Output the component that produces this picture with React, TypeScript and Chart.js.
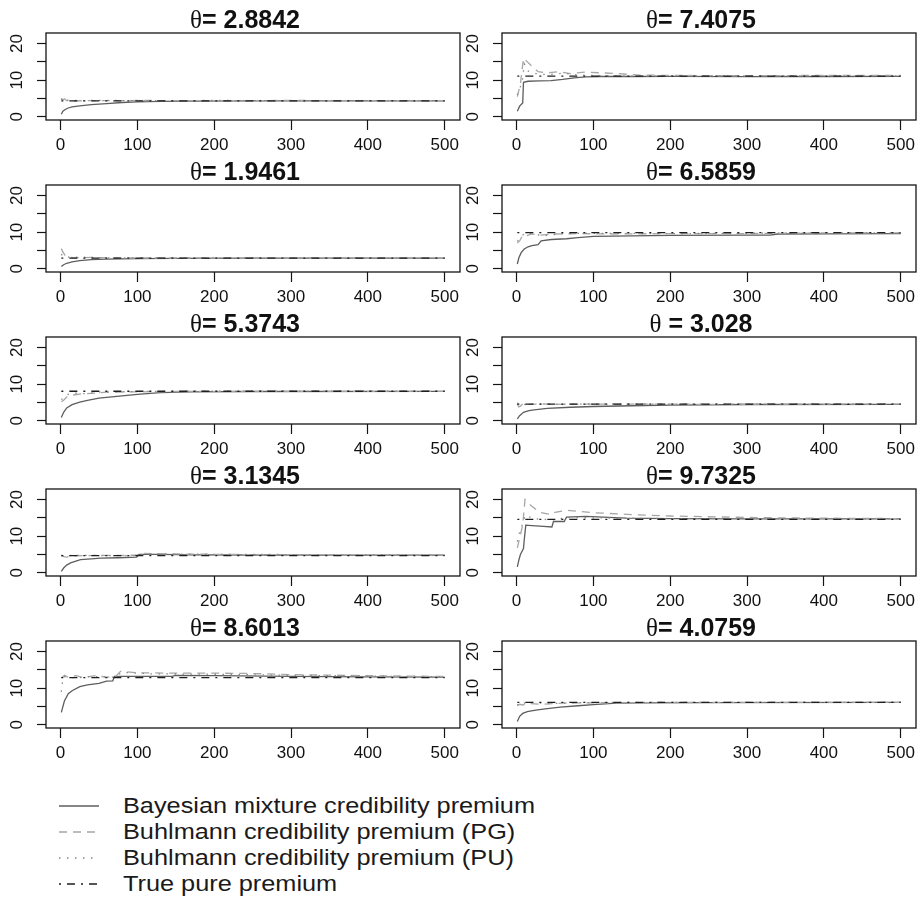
import React, { useEffect, useRef } from "react";
import { Chart, registerables } from "chart.js";

Chart.register(...registerables);

const FONT = '"Liberation Sans", Arial, Helvetica, sans-serif';
const SERIF = '"Liberation Serif", "DejaVu Serif", serif';

// Panel titles (row-major: left, right)
const titles = [
  "θ= 2.8842", "θ= 7.4075",
  "θ= 1.9461", "θ= 6.5859",
  "θ= 5.3743", "θ = 3.028",
  "θ= 3.1345", "θ= 9.7325",
  "θ= 8.6013", "θ= 4.0759",
];

// True pure premium level per panel
const truePremium = [4.33, 11.11, 2.92, 9.88, 8.06, 4.54, 4.7, 14.6, 12.9, 6.11];

// x ticks / y ticks
const xTicks = [0, 100, 200, 300, 400, 500];
const yTickMarks = [0, 5, 10, 15, 20];
const yTicks = [0, 10, 20];
const nRange = [1, 500];
const yRange = [0, 22];

// Bayesian mixture credibility premium: [n, premium]
const bayes1 = [[1,0.7],[3,1.5],[6,2.0],[10,2.4],[15,2.7],[25,3.0],[40,3.3],[60,3.6],[80,3.9],[100,4.05],[130,4.2],[170,4.3],[250,4.35],[350,4.35],[500,4.35]];
const bayes2 = [[1,1.5],[4,2.9],[8,3.8],[9,9.4],[15,9.7],[30,9.8],[45,9.9],[60,10.2],[75,10.6],[90,10.9],[110,11.0],[150,11.0],[200,11.05],[300,10.95],[400,11.0],[500,11.05]];
const bayes3 = [[1,0.6],[4,1.1],[8,1.5],[15,1.9],[25,2.2],[40,2.5],[60,2.65],[100,2.8],[150,2.85],[250,2.9],[500,2.9]];
const bayes4 = [[1,1.3],[3,3.0],[6,4.4],[10,5.4],[15,6.0],[20,6.3],[28,6.6],[32,7.6],[45,8.0],[65,8.2],[80,8.5],[100,8.85],[150,9.0],[200,9.1],[300,9.2],[330,9.2],[340,9.5],[400,9.55],[500,9.6]];
const bayes5 = [[1,0.9],[4,2.3],[8,3.5],[15,4.4],[25,5.1],[35,5.6],[50,6.2],[70,6.6],[100,7.2],[130,7.7],[170,7.9],[250,8.0],[500,8.05]];
const bayes6 = [[1,0.5],[4,1.4],[9,2.3],[15,2.7],[20,2.9],[40,3.4],[70,3.7],[100,3.9],[150,4.1],[200,4.3],[300,4.45],[500,4.5]];
const bayes7 = [[1,0.4],[4,1.3],[8,2.1],[13,2.7],[20,3.2],[26,3.6],[40,3.8],[52,4.0],[75,4.1],[99,4.3],[102,5.0],[130,5.0],[170,4.9],[250,4.85],[350,4.8],[500,4.8]];
const bayes8 = [[1,1.6],[3,3.5],[5,5.0],[9,6.6],[10,9.0],[12,13.0],[20,12.9],[35,12.7],[46,12.5],[48,14.0],[62,14.0],[65,15.2],[90,15.4],[143,14.9],[200,14.8],[300,14.7],[500,14.7]];
const bayes9 = [[1,3.4],[5,6.5],[10,8.5],[15,9.3],[25,10.4],[35,10.9],[50,11.3],[60,11.9],[68,12.0],[70,13.2],[100,13.2],[145,13.2],[150,13.5],[200,13.4],[300,13.2],[400,13.1],[500,13.0]];
const bayes10 = [[1,0.9],[4,2.3],[8,3.1],[14,3.6],[25,4.0],[40,4.4],[57,4.8],[80,5.2],[100,5.5],[130,5.9],[170,6.0],[250,6.05],[500,6.1]];

// Buhlmann credibility premium (PG)
const pg1 = [[1,5.0],[3,4.6],[5,4.9],[8,4.4],[15,4.3],[30,4.4],[60,4.4],[100,4.45],[200,4.4],[300,4.45],[400,4.4],[500,4.4]];
const pg2 = [[1,5.5],[5,9.0],[9,16.0],[14,15.0],[20,13.8],[28,12.3],[40,12.0],[55,12.3],[70,11.8],[90,12.2],[110,12.0],[130,11.8],[160,11.4],[200,11.3],[300,11.2],[400,11.3],[500,11.3]];
const pg3 = [[1,5.5],[3,4.6],[6,3.6],[10,3.2],[20,3.0],[40,3.1],[80,2.95],[150,2.95],[300,2.9],[500,2.9]];
const pg4 = [[1,7.0],[4,7.6],[8,9.2],[12,9.0],[20,9.5],[30,9.2],[50,9.5],[80,9.6],[120,9.5],[200,9.6],[300,9.6],[400,9.8],[500,9.8]];
const pg5 = [[1,5.2],[4,5.6],[8,6.5],[15,7.0],[25,7.3],[40,7.5],[60,7.8],[100,7.9],[150,8.0],[300,8.05],[500,8.05]];
const pg6 = [[1,4.6],[3,3.8],[5,4.0],[8,4.6],[15,4.5],[30,4.6],[60,4.5],[120,4.55],[250,4.5],[500,4.55]];
const pg7 = [[1,4.9],[4,4.4],[8,4.3],[15,4.6],[30,4.7],[60,4.75],[99,4.8],[105,5.3],[130,5.2],[170,5.1],[250,4.95],[350,4.9],[500,4.85]];
const pg8 = [[1,6.8],[4,9.5],[8,13.0],[11,20.0],[15,19.0],[20,18.2],[30,16.5],[46,15.9],[50,16.5],[65,17.1],[80,16.8],[100,16.4],[150,15.9],[200,15.5],[300,15.1],[400,14.9],[500,14.8]];
const pg9 = [[1,12.8],[5,13.5],[10,13.0],[20,13.4],[30,12.9],[45,13.4],[60,13.0],[72,13.3],[78,14.6],[100,14.2],[150,14.1],[200,14.1],[250,14.0],[300,13.7],[400,13.4],[500,13.2]];
const pg10 = [[1,5.2],[4,5.6],[8,5.4],[15,5.8],[30,5.6],[60,5.9],[100,6.0],[200,6.1],[500,6.1]];

// Buhlmann credibility premium (PU)
const pu1 = [[1,4.6],[3,5.2],[6,4.5],[12,4.6],[25,4.4],[50,4.5],[100,4.4],[200,4.45],[300,4.4],[500,4.4]];
const pu2 = [[1,6.0],[4,7.5],[8,10.5],[10,14.5],[15,12.5],[25,11.8],[40,11.5],[60,11.9],[80,11.4],[100,11.3],[150,11.1],[250,11.2],[400,11.15],[500,11.2]];
const pu3 = [[1,4.0],[3,3.4],[6,3.5],[12,3.1],[25,3.2],[50,3.0],[100,3.0],[200,2.9],[500,2.9]];
const pu4 = [[1,7.5],[5,8.5],[10,9.6],[20,9.6],[35,9.0],[60,9.6],[100,9.7],[200,9.6],[300,9.7],[500,9.8]];
const pu5 = [[1,5.8],[3,6.1],[8,7.1],[15,7.6],[30,7.4],[50,7.8],[100,8.0],[200,8.1],[500,8.05]];
const pu6 = [[1,4.9],[3,4.4],[6,4.7],[12,4.4],[25,4.6],[50,4.5],[100,4.6],[250,4.55],[500,4.55]];
const pu7 = [[1,4.6],[5,4.5],[10,4.7],[25,4.8],[60,4.7],[99,4.7],[110,5.2],[150,5.1],[250,5.0],[500,4.9]];
const pu8 = [[1,8.5],[3,10.5],[6,12.0],[9,14.5],[12,15.8],[20,14.9],[30,14.6],[50,14.5],[65,15.1],[100,15.0],[200,14.8],[300,14.8],[500,14.7]];
const pu9 = [[1,9.0],[2,11.0],[4,13.2],[10,13.0],[20,12.8],[40,13.2],[70,13.0],[80,14.3],[120,13.9],[200,13.8],[300,13.5],[400,13.3],[500,13.1]];
const pu10 = [[1,5.6],[4,5.1],[10,5.9],[20,6.1],[40,5.8],[80,6.05],[150,6.1],[500,6.15]];

const bayesSeries = [bayes1, bayes2, bayes3, bayes4, bayes5, bayes6, bayes7, bayes8, bayes9, bayes10];
const pgSeries = [pg1, pg2, pg3, pg4, pg5, pg6, pg7, pg8, pg9, pg10];
const puSeries = [pu1, pu2, pu3, pu4, pu5, pu6, pu7, pu8, pu9, pu10];

const legendLabels = [
  "Bayesian mixture credibility premium",
  "Buhlmann credibility premium (PG)",
  "Buhlmann credibility premium (PU)",
  "True pure premium",
];

// styles
const STYLES = [
  { color: "#5e5e5e", dash: [] as number[] },
  { color: "#a6a6a6", dash: [8, 6] },
  { color: "#8a8a8a", dash: [1.5, 6.5] },
  { color: "#1e1e1e", dash: [2, 6, 8, 6] },
];

const toXY = (arr: number[][]) => arr.map((p) => ({ x: p[0], y: p[1] }));

const boxPlugin = {
  id: "rbox",
  afterDraw(chart: any) {
    const { ctx, chartArea } = chart;
    ctx.save();
    ctx.strokeStyle = "#151515";
    ctx.lineWidth = 1.3;
    ctx.strokeRect(chartArea.left, chartArea.top, chartArea.right - chartArea.left, chartArea.bottom - chartArea.top);
    ctx.restore();
  },
};

// R-style y labels, parallel to the axis, placed through the y scale
const yLabelPlugin = {
  id: "rylabels",
  afterDraw(chart: any) {
    const { ctx } = chart;
    const ys = chart.scales.y;
    ctx.save();
    ctx.fillStyle = "#111";
    ctx.font = `17px ${FONT}`;
    ctx.textAlign = "center";
    ctx.textBaseline = "middle";
    for (const v of yTicks) {
      const py = ys.getPixelForValue(v);
      ctx.save();
      ctx.translate(ys.left + 17, py);
      ctx.rotate(-Math.PI / 2);
      ctx.fillText(String(v), 0, 0);
      ctx.restore();
    }
    ctx.restore();
  },
};

// R plotmath-like title: serif theta, bold sans remainder
const titlePlugin = {
  id: "rtitle",
  afterDraw(chart: any, _args: any, opts: any) {
    const { ctx, chartArea } = chart;
    const text: string = opts.text || "";
    const sym = text.slice(0, 1);
    const rest = text.slice(1);
    ctx.save();
    ctx.fillStyle = "#111";
    ctx.textBaseline = "alphabetic";
    ctx.textAlign = "left";
    const symFont = `25px ${SERIF}`;
    const restFont = `bold 25px ${FONT}`;
    ctx.font = symFont;
    const w1 = ctx.measureText(sym).width;
    ctx.font = restFont;
    const w2 = ctx.measureText(rest).width;
    const cx = (chartArea.left + chartArea.right) / 2 - 8;
    const x0 = cx - (w1 + w2) / 2;
    const base = chartArea.top - 5;
    ctx.font = symFont;
    ctx.fillText(sym, x0, base);
    ctx.font = restFont;
    ctx.fillText(rest, x0 + w1, base);
    ctx.restore();
  },
};

const CANVAS_W = 472;
const CANVAS_H = 156;

function Panel({ idx }: { idx: number }) {
  const ref = useRef<HTMLCanvasElement | null>(null);
  useEffect(() => {
    if (!ref.current) return;
    const xExt = (nRange[1] - nRange[0]) * 0.04;
    const yExt = (yRange[1] - yRange[0]) * 0.04;
    const mk = (data: any[], s: { color: string; dash: number[] }) => ({
      data,
      borderColor: s.color,
      backgroundColor: s.color,
      borderDash: s.dash,
      borderWidth: 1.3,
      pointRadius: 0,
      fill: false,
      tension: 0,
    });
    const chart = new Chart(ref.current, {
      type: "line",
      data: {
        datasets: [
          { label: legendLabels[3], ...mk(toXY([[nRange[0], truePremium[idx]], [nRange[1], truePremium[idx]]]), STYLES[3]) },
          { label: legendLabels[2], ...mk(toXY(puSeries[idx]), STYLES[2]) },
          { label: legendLabels[1], ...mk(toXY(pgSeries[idx]), STYLES[1]) },
          { label: legendLabels[0], ...mk(toXY(bayesSeries[idx]), STYLES[0]) },
        ],
      },
      options: {
        responsive: false,
        animation: false,
        devicePixelRatio: 1,
        layout: { padding: { left: 0, right: 12, top: 33, bottom: 0 } },
        plugins: {
          legend: { display: false },
          tooltip: { enabled: false },
          title: { display: false },
          rtitle: { text: titles[idx] },
        },
        scales: {
          x: {
            type: "linear",
            min: nRange[0] - xExt,
            max: nRange[1] + xExt,
            afterBuildTicks: (s: any) => { s.ticks = xTicks.map((v) => ({ value: v })); },
            ticks: { color: "#111", font: { family: FONT, size: 17 }, padding: 5, maxRotation: 0, autoSkip: false },
            grid: { drawOnChartArea: false, drawTicks: true, tickLength: 10, color: "#151515", tickWidth: 1.2 },
            border: { display: false },
            afterFit: (s: any) => { s.height = CANVAS_H - 120; },
          },
          y: {
            type: "linear",
            min: yRange[0] - yExt,
            max: yRange[1] + yExt,
            afterBuildTicks: (s: any) => { s.ticks = yTickMarks.map((v) => ({ value: v })); },
            ticks: { display: false, autoSkip: false },
            grid: { drawOnChartArea: false, drawTicks: true, tickLength: 9, color: "#151515", tickWidth: 1.2 },
            border: { display: false },
            afterFit: (s: any) => { s.width = 46; },
          },
        },
      } as any,
      plugins: [boxPlugin, yLabelPlugin, titlePlugin],
    });
    return () => chart.destroy();
  }, [idx]);
  const r = Math.floor(idx / 2);
  const c = idx % 2;
  return (
    <canvas
      ref={ref}
      width={CANVAS_W}
      height={CANVAS_H}
      style={{ position: "absolute", left: c * 456, top: r * 152, width: CANVAS_W, height: CANVAS_H }}
    />
  );
}

function Legend() {
  const rowTop = 806;
  const rowGap = 26;
  return (
    <div style={{ position: "absolute", left: 0, top: 0 }}>
      {legendLabels.map((lab, i) => (
        <React.Fragment key={i}>
          <svg
            width={44}
            height={6}
            style={{ position: "absolute", left: 57, top: rowTop + i * rowGap - 3 }}
          >
            <line
              x1={2}
              x2={42}
              y1={3}
              y2={3}
              stroke={STYLES[i].color}
              strokeWidth={1.3}
              strokeDasharray={STYLES[i].dash.length ? STYLES[i].dash.join(" ") : undefined}
            />
          </svg>
          <div
            style={{
              position: "absolute",
              left: 123,
              top: rowTop + i * rowGap - 13,
              height: 26,
              lineHeight: "26px",
              fontFamily: FONT,
              fontSize: 22,
              color: "#1a1a1a",
              whiteSpace: "nowrap",
              transform: "scaleX(1.15)",
              transformOrigin: "left center",
            }}
          >
            {lab}
          </div>
        </React.Fragment>
      ))}
    </div>
  );
}

export default function App() {
  return (
    <div style={{ position: "absolute", left: 0, top: 0, width: 922, height: 902, background: "#fff", overflow: "hidden" }}>
      {titles.map((_, i) => (
        <Panel key={i} idx={i} />
      ))}
      <Legend />
    </div>
  );
}
